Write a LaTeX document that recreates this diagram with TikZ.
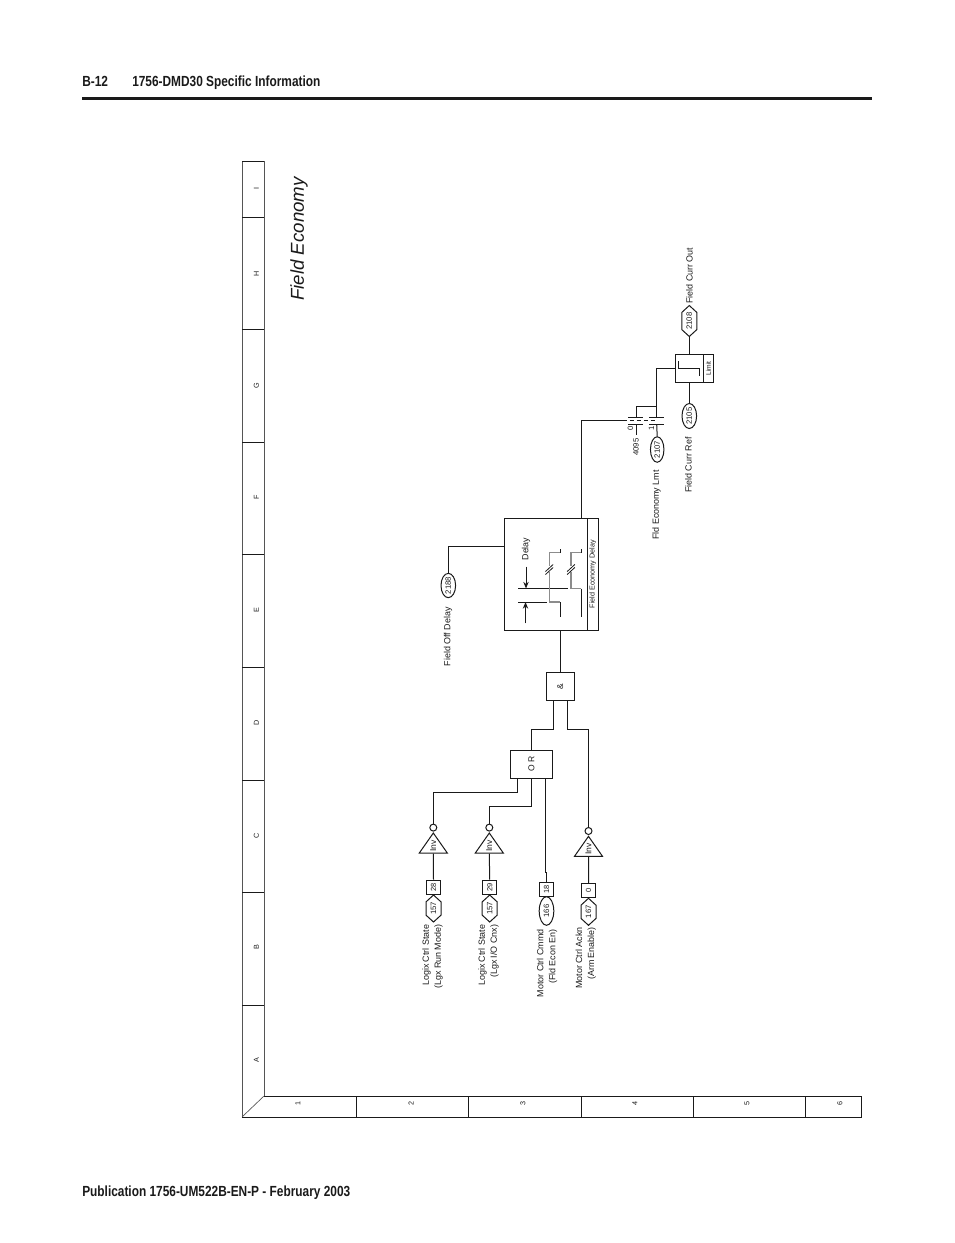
\documentclass[tikz,border=0pt]{standalone}
\usepackage{fontspec}
\setmainfont{Liberation Sans}
\newfontfamily\hdfont[FakeStretch=0.81]{Liberation Sans}
\usetikzlibrary{shapes.geometric,shapes.symbols,shapes.misc,arrows.meta}
\def\PX{0.75pt}
\definecolor{ink}{HTML}{1A1A1A}
\definecolor{framegray}{HTML}{555555}
\tikzset{
  wire/.style={draw=ink,line width=0.75pt},
  graywire/.style={draw=black!45,line width=1pt},
  txt/.style={rotate=90,inner sep=0pt,font=\fontsize{6.7}{9}\selectfont,text=ink},
  multi/.style={txt,align=right,anchor=east},
  small/.style={rotate=90,inner sep=0pt,font=\fontsize{5.8}{6}\selectfont,text=ink},
  pad/.style={draw=ink,line width=0.75pt,fill=white,rectangle,rotate=90,inner sep=0pt,font=\fontsize{5.6}{6}\selectfont,text=ink,minimum width=14.4*\PX,minimum height=14.4*\PX},
  boxn/.style={draw=ink,line width=0.75pt,fill=white,rectangle,rotate=90,inner sep=0pt,text=ink,font=\fontsize{6.4}{7}\selectfont},
  ell/.style={draw=ink,line width=0.75pt,fill=white,ellipse,rotate=90,inner sep=0pt,font=\fontsize{5.8}{6}\selectfont,text=ink,minimum width=25*\PX,minimum height=14.6*\PX},
  hexn/.style={draw=ink,line width=0.75pt,fill=white,signal,signal to=east and west,signal pointer angle=95,rotate=90,inner sep=0pt,font=\fontsize{5.8}{6}\selectfont,text=ink,minimum width=27*\PX,minimum height=15*\PX},
  invt/.style={draw=ink,line width=0.75pt,fill=white,isosceles triangle,isosceles triangle stretches,rotate=90,inner sep=0pt,anchor=apex,font=\fontsize{6.4}{6}\selectfont,text=ink,minimum width=28*\PX,minimum height=20*\PX},
  bub/.style={draw=ink,line width=0.75pt,fill=white,circle,inner sep=0pt,minimum size=7*\PX},
  head/.style={inner sep=0pt,anchor=base west,font=\hdfont\bfseries\fontsize{11}{12}\selectfont,text=ink},
  gridlab/.style={rotate=90,inner sep=0pt,font=\fontsize{5.4}{6}\selectfont,text=ink},
  frm/.style={draw=framegray,line width=0.75pt},
  frb/.style={draw=ink,line width=0.75pt}
}
\begin{document}
\begin{tikzpicture}[x=0.75pt,y=-0.75pt]
\useasboundingbox (0,0) rectangle (954,1243);
% page header / footer
\node[head] (hpage) at (82,86.7) {B-12};
\node[head] (htitle) at (132,86.7) {1756-DMD30 Specific Information};
\fill[ink] (82,96.7) rectangle (872,100);
\node[head] (hfoot) at (82,1196) {Publication 1756-UM522B-EN-P - February 2003};
% frame
\draw[frm] (242,161) -- (242,1117);
\draw[frm] (264,161) -- (264,1096);
\draw[draw=framegray,line width=0.5pt] (242,1117) -- (264,1096);
\draw[frb] (242,161) -- (264,161);
\draw[frb] (264,1096) -- (861,1096) -- (861,1117) -- (242,1117);
\foreach \yy in {217,329,442,554,667,780,892,1005} \draw[frb] (242,\yy) -- (264,\yy);
\foreach \xx in {356,468,581,693,805} \draw[frb] (\xx,1096) -- (\xx,1117);
\foreach \lab/\yy in {I/188,H/273.5,G/385.5,F/497.5,E/610.5,D/722.5,C/835.5,B/947.5,A/1060.5}
  \node[gridlab] (row\lab) at (256.5,\yy) {\lab};
\foreach \lab/\xx in {1/298,2/411,3/523,4/635,5/747,6/840}
  \node[gridlab] (col\lab) at (\xx,1103) {\lab};
\node[rotate=90,inner sep=0pt,font=\itshape\fontsize{14}{16}\selectfont,text=ink] (title) at (299,239) {Field Economy};
% logic blocks
\node[boxn,minimum width=28*\PX,minimum height=42*\PX] (or) at (531.5,764.4) {O R};
\node[boxn,minimum width=28.3*\PX,minimum height=28.6*\PX] (and) at (560.3,686.3) {\&};
\node[boxn,minimum width=112*\PX,minimum height=83*\PX] (delay) at (545.8,574.3) {};
\node[boxn,minimum width=112*\PX,minimum height=11*\PX,font=\fontsize{5.4}{6}\selectfont] (delayt) at (592.8,574.3) {Field Economy Delay};
\node[boxn,minimum width=28.3*\PX,minimum height=28*\PX] (lim) at (689.3,368.2) {};
\node[boxn,minimum width=28.3*\PX,minimum height=10.4*\PX,font=\fontsize{5}{6}\selectfont] (limt) at (708.5,368.2) {Limit};
% inputs
\node[invt] (t1) at (433.3,831.7) {Inv};
\node[invt] (t2) at (489.3,831.7) {Inv};
\node[invt] (t4) at (588.5,835) {Inv};
\node[bub] (c1) at (433.3,827.6) {};
\node[bub] (c2) at (489.3,827.6) {};
\node[bub] (c4) at (588.5,831) {};
\node[pad] (p1) at (433.5,887.2) {28};
\node[pad] (p2) at (489.7,887.2) {29};
\node[pad] (p3) at (546.5,889.5) {18};
\node[pad] (p4) at (588.5,890.5) {0};
\node[hexn] (h1) at (433.5,908.5) {157};
\node[hexn] (h2) at (489.7,908.5) {157};
\node[ell,minimum width=28.6*\PX] (e3) at (546.5,911) {166};
\node[hexn] (h4) at (588.5,911.8) {167};
\node[multi] (l1) at (432.5,924.5) {Logix Ctrl State\\(Lgx Run Mode)};
\node[multi] (l2) at (488.5,924.5) {Logix Ctrl State\\(Lgx I/O Cnx)};
\node[multi] (l3) at (547,929) {Motor Ctrl Cmmd\\(Fld Econ En)};
\node[multi] (l4) at (585.8,927) {Motor Ctrl Ackn\\(Arm Enable)};
% parameter nodes
\node[ell,minimum width=24*\PX] (e2188) at (448.3,585.5) {2188};
\node[txt,anchor=east] (l2188) at (448,607) {Field Off Delay};
\node[ell,minimum width=25.5*\PX,minimum height=13.5*\PX] (e2107) at (657.2,449.5) {2107};
\node[txt,anchor=east] (l2107) at (656.5,470) {Fld Economy Lmt};
\node[ell,minimum width=25*\PX] (e2105) at (689.3,416) {2105};
\node[txt,anchor=east] (l2105) at (688.5,437) {Field Curr Ref};
\node[hexn,minimum width=26*\PX] (h2108) at (689.3,321) {2108};
\node[txt,anchor=west] (lout) at (689.5,304) {Field Curr Out};
\node[small] (n4095) at (636,447) {4095};
\node[small] (n0) at (630.5,428) {0};
\node[small] (n1) at (651.5,428) {1};
% wiring
\coordinate (orin1) at (517.5,778.4);
\coordinate (orin2) at (531.5,778.4);
\coordinate (orin3) at (545.5,778.4);
\coordinate (bend1) at (517.5,792.7);
\coordinate (bend2) at (531.5,806.3);
\coordinate (bend3a) at (545.5,872.3);
\coordinate (bend3b) at (546.5,872.3);
\coordinate (orout) at (531.5,750.4);
\coordinate (andin1) at (553.3,700.5);
\coordinate (andin2) at (567.6,700.5);
\coordinate (bendo) at (531.5,729.3);
\coordinate (bend4) at (588.5,729.3);
\coordinate (bend5) at (567.6,729.3);
\coordinate (delin) at (560.3,630.3);
\coordinate (delout) at (581.3,518.3);
\coordinate (delpar) at (504.3,546.3);
\draw[wire] (c1.north) |- (bend1) -- (orin1);
\draw[wire] (c2.north) |- (bend2) -- (orin2);
\draw[wire] (p3.east) -- (bend3b) -- (bend3a) -- (orin3);
\draw[wire] (c4.north) -- (bend4) -- (bend5) -- (andin2);
\draw[wire] (t1.west) -- (p1.east);
\draw[wire] (t2.west) -- (p2.east);
\draw[wire] (t4.west) -- (p4.east);
\draw[wire] (orout) -- (bendo) -| (andin1);
\draw[wire] (and.east -| delin) -- (delin);
\draw[wire] (e2188.east) |- (delpar);
% switch
\coordinate (swl) at (636,420.6);
\coordinate (swr) at (656.7,420.6);
\coordinate (swin) at (581.3,420.6);
\coordinate (swjoin) at (656.7,406);
\coordinate (swleft) at (636,406);
\coordinate (limin) at (675.3,368.2);
\coordinate (swdash) at (623,420.6);
\draw[wire] (delout) -- (swin) -- (swdash);
\draw[wire,dash pattern=on 3.2pt off 2pt] (swdash) -- (swr);
\draw[wire] (swleft) -- (swjoin);
\draw[wire] (636,417) -- (swleft);
\draw[wire] (656.7,417) -- (swjoin) |- (limin);
\draw[wire] (628,417) -- (643,417) (649,417) -- (664,417);
\draw[wire] (628,424.3) -- (643,424.3) (649,424.3) -- (664,424.3);
\draw[wire] (636,424.3) -- (636,435);
\draw[wire] (656.7,424.3) -- (e2107.east);
\draw[wire] (h2108.west) -- (lim.east);
\draw[wire] (lim.west) -- (e2105.east);
% limit symbol
\draw[wire] (678.3,361) -- (678.3,368.3) -- (699.3,368.3) -- (699.3,376);
% delay contents
\node[txt] (dlab) at (526,549) {Delay};
\coordinate (a1s) at (526,566.7);
\coordinate (a1e) at (526,588.5);
\coordinate (a2s) at (525.5,623.3);
\coordinate (a2e) at (525.5,602);
\draw[wire,-{Stealth[length=5pt,width=4pt]}] (a1s) -- (a1e);
\draw[wire,-{Stealth[length=5pt,width=4pt]}] (a2s) -- (a2e);
\draw[wire] (518,588.7) -- (567.7,588.7);
\draw[wire] (518,602) -- (546.7,602);
\draw[graywire] (560.3,552.5) -- (549.3,552.5) -- (549.3,602) -- (560.3,602);
\draw[graywire] (581.3,552.5) -- (571,552.5) -- (571,588.7) -- (581.3,588.7);
\draw[wire] (560.3,549) -- (560.3,552.5);
\draw[wire] (560.3,602) -- (560.3,616.7);
\draw[wire] (581.3,549) -- (581.3,552.5);
\draw[wire] (581.3,588.7) -- (581.3,616.7);
\foreach \xx in {549.3,571} {
  \draw[draw=white,line width=2pt] (\xx,566) -- (\xx,572);
  \draw[draw=ink,line width=0.6pt] (\xx-3.8,571.5) -- (\xx+3.8,564.5);
  \draw[draw=ink,line width=0.6pt] (\xx-3.8,574.5) -- (\xx+3.8,567.5);
}
\end{tikzpicture}
\end{document}
